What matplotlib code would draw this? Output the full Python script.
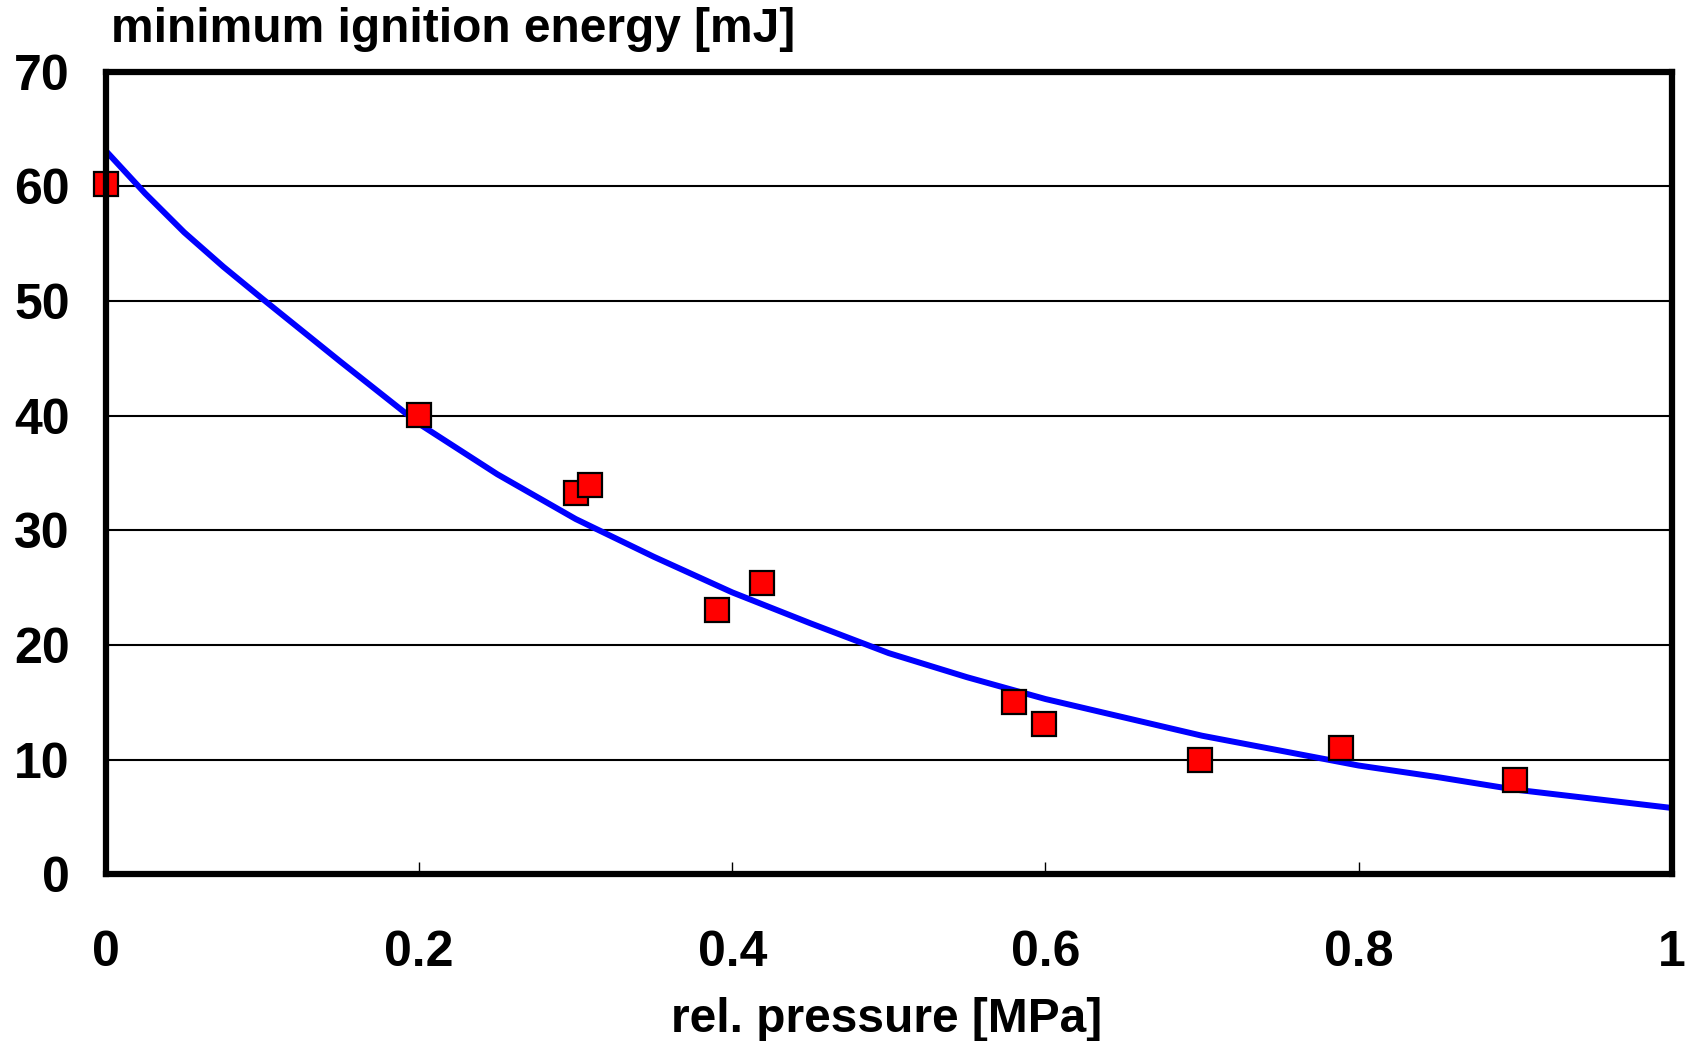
import numpy as np
import matplotlib
matplotlib.use("Agg")
import matplotlib.pyplot as plt

plt.rcParams['font.family'] = ['Liberation Sans', 'DejaVu Sans']
plt.rcParams['font.weight'] = 'bold'

# measured points (rel. pressure [MPa], minimum ignition energy [mJ])
pressure = [0.0, 0.2, 0.3, 0.309, 0.39, 0.419, 0.58, 0.599, 0.699, 0.789, 0.9]
energy = [60.2, 40.1, 33.3, 34.0, 23.1, 25.4, 15.0, 13.1, 10.0, 11.0, 8.2]

# fitted curve
curve_x = [0.0, 0.025, 0.05, 0.075, 0.1, 0.15, 0.2, 0.25, 0.3, 0.35, 0.4,
           0.45, 0.5, 0.55, 0.6, 0.65, 0.7, 0.75, 0.8, 0.85, 0.9, 0.95, 1.0]
curve_y = [63.1, 59.4, 56.0, 53.0, 50.2, 44.7, 39.3, 34.9, 31.0, 27.7, 24.6,
           21.9, 19.3, 17.2, 15.3, 13.7, 12.1, 10.8, 9.5, 8.5, 7.4, 6.6, 5.8]

xticks = [0, 0.2, 0.4, 0.6, 0.8, 1]
xticklabels = ['0', '0.2', '0.4', '0.6', '0.8', '1']
yticks = [0, 10, 20, 30, 40, 50, 60, 70]

fig = plt.figure(figsize=(16.92, 10.41), dpi=100)
ax = fig.add_axes([0.0626, 0.160, 0.9254, 0.771])

ax.set_xlim(0, 1)
ax.set_ylim(0, 70)
ax.set_yticks(yticks)
ax.set_xticks(xticks)
ax.set_xticklabels(xticklabels)
ax.yaxis.grid(True, color='black', linewidth=1.5)
ax.set_axisbelow(True)

ax.plot(curve_x, curve_y, color='#0000ff', linewidth=4.3, zorder=3)
ax.plot(pressure, energy, linestyle='none', marker='s', markersize=17,
        markerfacecolor='#ff0000', markeredgecolor='black',
        markeredgewidth=1.6, zorder=4, clip_on=False)

for s in ax.spines.values():
    s.set_linewidth(4.5)
    s.set_zorder(5)

ax.tick_params(axis='x', direction='in', length=9, width=1, pad=40,
               labelsize=36)
ax.tick_params(axis='y', direction='in', length=0, pad=26, labelsize=36)
for lbl in ax.get_xticklabels() + ax.get_yticklabels():
    lbl.set_fontweight('bold')

fig.text(0.0656, 0.972, 'minimum ignition energy [mJ]', fontsize=34.5,
         fontweight='bold', ha='left', va='center')
fig.text(0.524, 0.021, 'rel. pressure [MPa]', fontsize=34.5,
         fontweight='bold', ha='center', va='center')

fig.savefig('out.png', dpi=100)
